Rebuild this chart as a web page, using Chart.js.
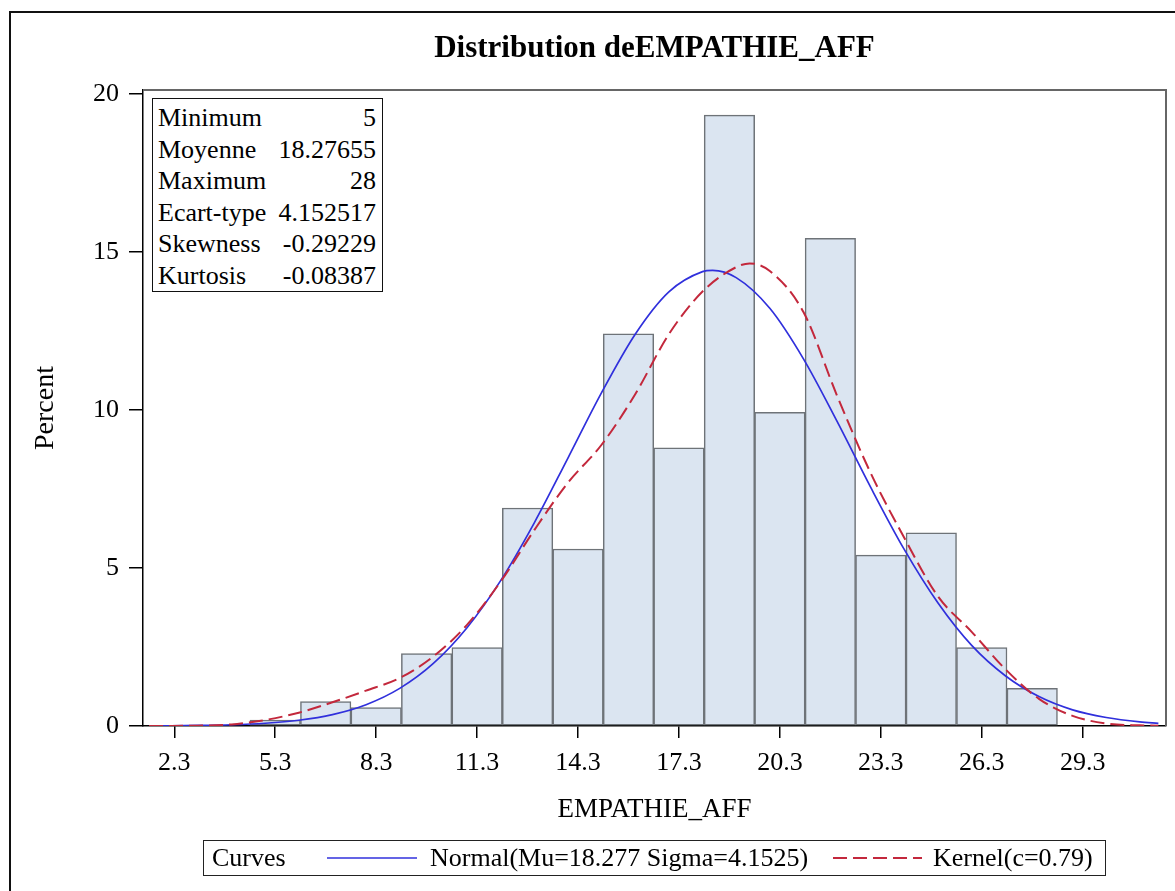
<!DOCTYPE html>
<html>
<head>
<meta charset="utf-8">
<script src="https://cdn.jsdelivr.net/npm/chart.js@4.4.1/dist/chart.umd.min.js"></script>
<style>
html,body{margin:0;padding:0;background:#fff;}
body{width:1175px;height:891px;position:relative;overflow:hidden;font-family:'Liberation Serif','Times New Roman',serif;color:#000;}
#c{position:absolute;left:0;top:0;}
#frame{position:absolute;left:9px;top:11px;width:1300px;height:1000px;border-left:2px solid #111;border-top:2px solid #111;pointer-events:none;}
#stats{position:absolute;left:152px;top:98px;width:231px;height:194px;border:1.5px solid #111;box-sizing:border-box;background:#fff;padding-top:3px;}
#stats .row{position:relative;height:31.6px;line-height:31.6px;font-size:26px;}
#stats .lab{position:absolute;left:5px;}
#stats .val{position:absolute;right:6px;}
#legend{position:absolute;left:203px;top:840px;width:903px;height:36px;border:1.5px solid #222;box-sizing:border-box;font-size:26px;}
#legend span{position:absolute;top:0;line-height:33px;white-space:nowrap;}
#legend svg{position:absolute;top:0;}
</style>
</head>
<body>
<div id="frame"></div>
<canvas id="c" width="1175" height="891"></canvas>
<div id="stats"></div>
<div id="legend"></div>
<script>
// ---------- data ----------
const chartTitle = 'Distribution deEMPATHIE_AFF';
const xTitle = 'EMPATHIE_AFF';
const yTitle = 'Percent';
const binCenters = [5.3, 6.8, 8.3, 9.8, 11.3, 12.8, 14.3, 15.8, 17.3, 18.8, 20.3, 21.8, 23.3, 24.8, 26.3, 27.8];
const binPercents = [0.19, 0.77, 0.58, 2.29, 2.48, 6.90, 5.60, 12.41, 8.80, 19.33, 9.93, 15.43, 5.41, 6.11, 2.48, 1.19];
const xTicks = [2.3, 5.3, 8.3, 11.3, 14.3, 17.3, 20.3, 23.3, 26.3, 29.3];
const yTicks = [0, 5, 10, 15, 20];
const normalX = [1.55, 2, 3, 4, 5, 6, 7, 8, 9, 10, 11, 12, 13, 14, 15, 16, 17, 18, 18.3, 19, 20, 21, 22, 23, 24, 25, 26, 27, 28, 29, 30, 31, 31.55];
const normalY = [0.004, 0.007, 0.017, 0.039, 0.087, 0.182, 0.361, 0.674, 1.19, 1.98, 3.11, 4.6, 6.43, 8.48, 10.55, 12.4, 13.74, 14.38, 14.42, 14.19, 13.22, 11.62, 9.64, 7.55, 5.58, 3.89, 2.55, 1.59, 0.93, 0.51, 0.27, 0.13, 0.085];
const kernelX = [1.55, 2, 3, 4, 5, 6, 7, 8, 9, 10, 11, 12, 13, 14, 15, 16, 17, 18, 19, 19.4, 20, 21, 22, 23, 24, 25, 26, 27, 28, 29, 30, 31, 31.55];
const kernelY = [0, 0.003, 0.01, 0.05, 0.19, 0.42, 0.75, 1.12, 1.52, 2.2, 3.2, 4.57, 6.2, 7.7, 8.9, 10.5, 12.4, 13.75, 14.52, 14.64, 14.4, 13.1, 10.45, 8.0, 5.95, 4.1, 2.98, 1.8, 0.86, 0.32, 0.08, 0.02, 0.01];
const statLabels = ['Minimum', 'Moyenne', 'Maximum', 'Ecart-type', 'Skewness', 'Kurtosis'];
const statValues = ['5', '18.27655', '28', '4.152517', '-0.29229', '-0.08387'];
const legendTitle = 'Curves';
const normalLabel = 'Normal(Mu=18.277 Sigma=4.1525)';
const kernelLabel = 'Kernel(c=0.79)';

// ---------- styles ----------
const FONT = "'Liberation Serif','Times New Roman',serif";
const BLUE = '#3030dc';
const RED = '#c3283c';

const framePlugin = {
  id: 'frame',
  afterDatasetsDraw(chart) {
    const {ctx, chartArea: a} = chart;
    ctx.save();
    ctx.strokeStyle = '#666';
    ctx.lineWidth = 2;
    ctx.beginPath();
    ctx.moveTo(a.left, a.top);
    ctx.lineTo(a.right, a.top);
    ctx.lineTo(a.right, a.bottom);
    ctx.stroke();
    ctx.restore();
  }
};

const chart = new Chart(document.getElementById('c'), {
  type: 'bar',
  data: {
    datasets: [
      {
        type: 'line', label: kernelLabel,
        data: kernelX.map((x, i) => ({x, y: kernelY[i]})),
        borderColor: RED, borderWidth: 2, borderDash: [14, 6],
        pointRadius: 0, fill: false, cubicInterpolationMode: 'monotone', order: 1
      },
      {
        type: 'line', label: normalLabel,
        data: normalX.map((x, i) => ({x, y: normalY[i]})),
        borderColor: BLUE, borderWidth: 1.7,
        pointRadius: 0, fill: false, cubicInterpolationMode: 'monotone', order: 2
      },
      {
        type: 'bar', label: yTitle,
        data: binCenters.map((x, i) => ({x, y: binPercents[i]})),
        backgroundColor: '#dbe5f1', borderColor: '#6e7378', borderWidth: 1.5,
        borderSkipped: false, barPercentage: 1, categoryPercentage: 1, order: 3
      }
    ]
  },
  options: {
    responsive: false,
    animation: false,
    events: [],
    layout: {padding: {left: 0, right: 9, top: 0, bottom: 65}},
    plugins: {
      legend: {display: false},
      tooltip: {enabled: false},
      title: {
        display: true, text: chartTitle, fullSize: false, color: '#000',
        font: {family: FONT, size: 31, weight: 'bold', lineHeight: 1.2},
        padding: {top: 30, bottom: 22.8}
      }
    },
    scales: {
      x: {
        type: 'linear', min: 1.37, max: 31.776, offset: false,
        afterBuildTicks: s => { s.ticks = xTicks.map(v => ({value: v})); },
        afterFit: s => { s.height = 100; },
        ticks: {
          callback: v => Number(v).toFixed(1), color: '#000', padding: 10,
          maxRotation: 0, autoSkip: false, font: {family: FONT, size: 26}
        },
        grid: {display: true, offset: false, drawOnChartArea: false, drawTicks: true, tickLength: 12, color: '#000', lineWidth: 1.5},
        border: {display: true, color: '#000', width: 1.5},
        title: {display: true, text: xTitle, color: '#000', font: {family: FONT, size: 27, lineHeight: 1.2}, padding: {top: 0, bottom: 0}}
      },
      y: {
        type: 'linear', min: 0, max: 20.127,
        afterBuildTicks: s => { s.ticks = yTicks.map(v => ({value: v})); },
        afterFit: s => { s.width = 143; },
        ticks: {color: '#000', padding: 10, font: {family: FONT, size: 26}},
        grid: {display: true, drawOnChartArea: false, drawTicks: true, tickLength: 14, color: '#000', lineWidth: 1.5},
        border: {display: true, color: '#000', width: 1.5},
        title: {display: true, text: yTitle, color: '#000', font: {family: FONT, size: 28, lineHeight: 1.2}, padding: {top: 29, bottom: 0}}
      }
    }
  },
  plugins: [framePlugin]
});

// ---------- stats inset ----------
const stats = document.getElementById('stats');
statLabels.forEach((lab, i) => {
  const r = document.createElement('div');
  r.className = 'row';
  r.innerHTML = '<span class="lab"></span><span class="val"></span>';
  r.children[0].textContent = lab;
  r.children[1].textContent = statValues[i];
  stats.appendChild(r);
});

// ---------- legend ----------
const lg = document.getElementById('legend');
lg.innerHTML =
  '<span style="left:8px">' + legendTitle + '</span>' +
  '<svg style="left:123px" width="92" height="33"><line x1="0" y1="17" x2="90" y2="17" stroke="' + BLUE + '" stroke-width="1.6"/></svg>' +
  '<span style="left:226px">' + normalLabel + '</span>' +
  '<svg style="left:629px" width="92" height="33"><line x1="0" y1="17" x2="89" y2="17" stroke="' + RED + '" stroke-width="2" stroke-dasharray="14 6"/></svg>' +
  '<span style="left:729px">' + kernelLabel + '</span>';
</script>
</body>
</html>
